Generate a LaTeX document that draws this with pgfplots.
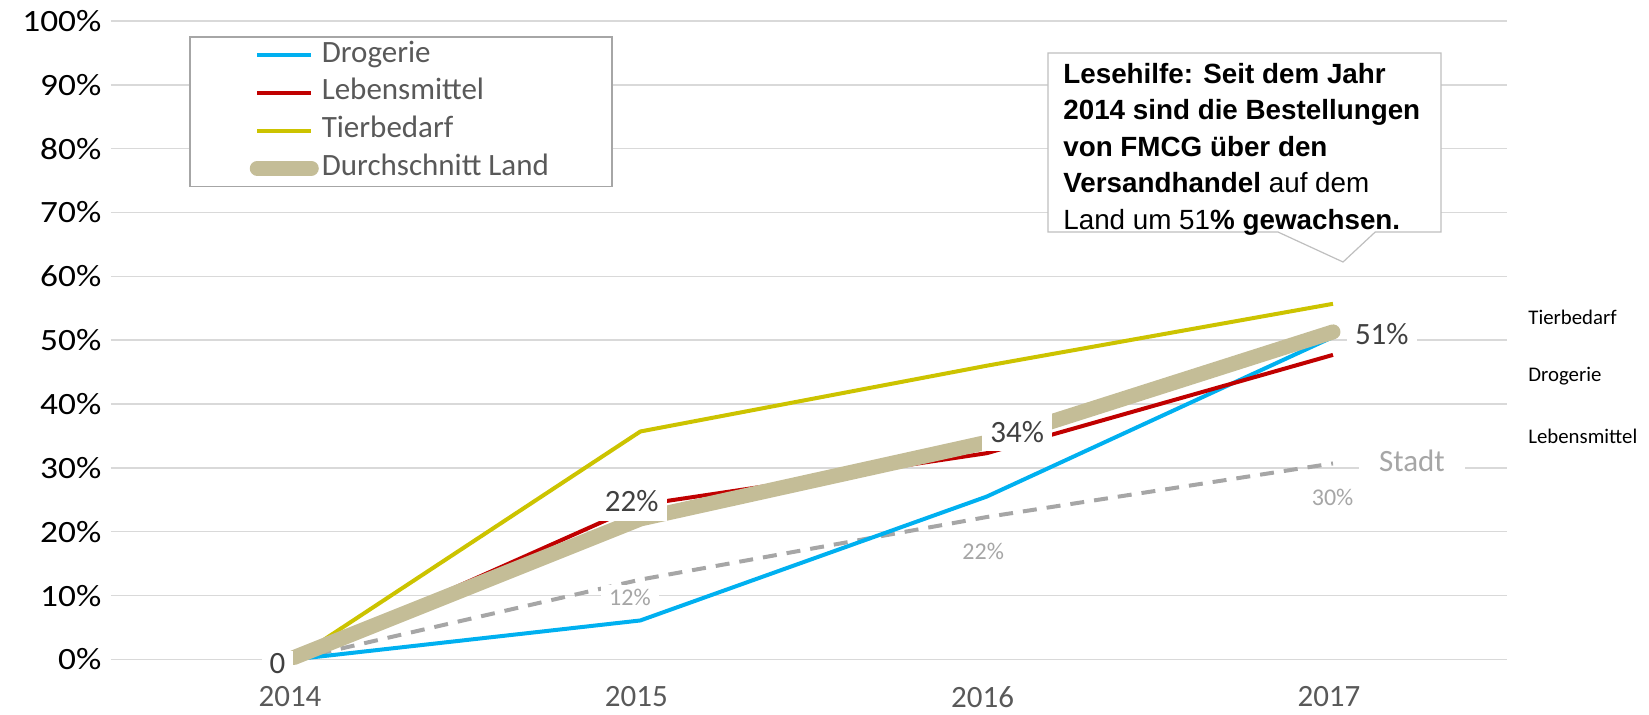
\documentclass[border=0pt]{standalone}
\usepackage{fontspec}
\setmainfont{Carlito}
\newfontfamily\arialfont{Liberation Sans}
\usepackage{pgfplots}
\pgfplotsset{compat=1.18}
\definecolor{drog}{HTML}{00B0F0}
\definecolor{leb}{HTML}{C00000}
\definecolor{tier}{HTML}{CCC300}
\definecolor{landtan}{HTML}{C4BD97}
\definecolor{stadtgray}{HTML}{A6A6A6}
\definecolor{gridgray}{HTML}{D9D9D9}
\definecolor{txtgray}{HTML}{595959}
\definecolor{lblgray}{HTML}{404040}
\definecolor{boxgray}{HTML}{BFBFBF}
\newcommand\yl[1]{\scalebox{1.14}[1]{#1\%}}
\begin{document}
\begin{tikzpicture}
\useasboundingbox (-55.5pt,-27.3pt) rectangle (769pt,329.7pt);
\begin{axis}[
  at={(0pt,0pt)}, anchor=south west,
  scale only axis, width=698pt, height=319.2pt,
  xmin=2013.4716, xmax=2017.5025, ymin=0, ymax=100,
  xtick={2014,2015,2016,2017}, xticklabels={2014,2015,2016,2017},
  ytick={0,10,20,30,40,50,60,70,80,90,100},
  yticklabels={\yl{0},\yl{10},\yl{20},\yl{30},\yl{40},\yl{50},\yl{60},\yl{70},\yl{80},\yl{90},\yl{100}},
  ymajorgrids, grid style={draw=gridgray, line width=0.75pt},
  axis line style={draw=none}, major tick style={draw=none},
  clip=false,
  /pgf/number format/assume math mode=true,
  x tick label style={font=\fontsize{15.5}{18}\selectfont, text=txtgray, yshift=-10pt, xshift=-2pt},
  y tick label style={font=\fontsize{15.5}{18}\selectfont, text=black, xshift=-1.3pt},
  legend image code/.code={\draw[#1] (0pt,0pt) -- (27pt,0pt);},
  legend cell align=left,
  legend style={at={(0.0559,0.9765)}, anchor=north west, draw=stadtgray, line width=0.75pt,
    font=\fontsize{15.5}{18}\selectfont, text=txtgray,
    inner xsep=30pt, inner ysep=1.7pt, row sep=3.85pt,
    nodes={inner xsep=1.5pt, inner ysep=0pt, text height=11pt, text depth=4pt}},
]
\addplot[stadtgray, line width=2pt, dash pattern=on 7pt off 5pt, forget plot]
  coordinates {(2014,0) (2015,12.5) (2016,22.3) (2017,30.7)};
\addplot[drog, line width=2pt] coordinates {(2014,0) (2015,6.1) (2016,25.5) (2017,50.5)};
\addlegendentry{Drogerie}
\addplot[leb, line width=2pt] coordinates {(2014,0) (2015,24.2) (2016,32.3) (2017,47.7)};
\addlegendentry{Lebensmittel}
\addplot[tier, line width=2pt] coordinates {(2014,0) (2015,35.7) (2016,46.0) (2017,55.7)};
\addlegendentry{Tierbedarf}
\addplot[landtan, line width=7.5pt, line cap=round] coordinates {(2014,0.3) (2015,22.0) (2016,34.0) (2017,51.3)};
\addlegendentry{Durchschnitt Land}

% data labels
\node[fill=white, text=lblgray, inner xsep=4.3pt, inner ysep=4.5pt, font=\fontsize{15.5}{18}\selectfont] at (axis cs:2014.975,24.8) {22\%};
\node[fill=white, text=lblgray, inner xsep=4pt, inner ysep=4pt, font=\fontsize{15.5}{18}\selectfont] at (axis cs:2016.088,35.6) {34\%};
\node[fill=white, text=lblgray, inner xsep=4pt, inner ysep=3pt, font=\fontsize{15.5}{18}\selectfont] at (axis cs:2017.141,51.0) {51\%};
\node[fill=white, text=lblgray, inner xsep=4pt, inner ysep=1pt, font=\fontsize{15.5}{18}\selectfont] at (axis cs:2013.952,-0.6) {0};
\node[fill=white, text=stadtgray, inner xsep=4pt, inner ysep=2pt, font=\fontsize{12}{14}\selectfont] at (axis cs:2014.970,9.7) {12\%};
\node[fill=white, text=stadtgray, inner xsep=3pt, inner ysep=1pt, font=\fontsize{12}{14}\selectfont] at (axis cs:2015.990,16.9) {22\%};
\node[fill=white, text=stadtgray, inner xsep=3pt, inner ysep=1pt, font=\fontsize{12}{14}\selectfont] at (axis cs:2016.999,25.4) {30\%};
\node[fill=white, text=stadtgray, inner xsep=10pt, inner ysep=1pt, font=\fontsize{15.5}{18}\selectfont] at (axis cs:2017.228,31.1) {Stadt};

% right side labels
\node[anchor=base west, inner sep=0pt, font=\fontsize{10.4}{12}\selectfont] at (axis cs:2017.563,52.5) {Tierbedarf};
\node[anchor=base west, inner sep=0pt, font=\fontsize{10.4}{12}\selectfont] at (axis cs:2017.563,43.6) {Drogerie};
\node[anchor=base west, inner sep=0pt, font=\fontsize{10.4}{12}\selectfont] at (axis cs:2017.563,33.85) {Lebensmittel};

% callout
\draw[draw=boxgray, fill=white, line width=0.6pt]
  (axis cs:2016.177,95.0) -- (axis cs:2017.312,95.0) -- (axis cs:2017.312,66.95)
  -- (axis cs:2017.122,66.95) -- (axis cs:2017.029,62.25) -- (axis cs:2016.841,66.95)
  -- (axis cs:2016.177,66.95) -- cycle;
\node[anchor=north west, inner sep=0pt, align=left, xshift=7.5pt, yshift=-5pt,
  font=\arialfont\fontsize{13.9}{18.2}\selectfont] at (axis cs:2016.177,95.0)
  {\textbf{Lesehilfe: Seit dem Jahr}\\
   \textbf{2014 sind die Bestellungen}\\
   \textbf{von FMCG über den}\\
   \textbf{Versandhandel} auf dem\\
   Land um 51\textbf{\% gewachsen.}};
\end{axis}
\end{tikzpicture}
\end{document}
